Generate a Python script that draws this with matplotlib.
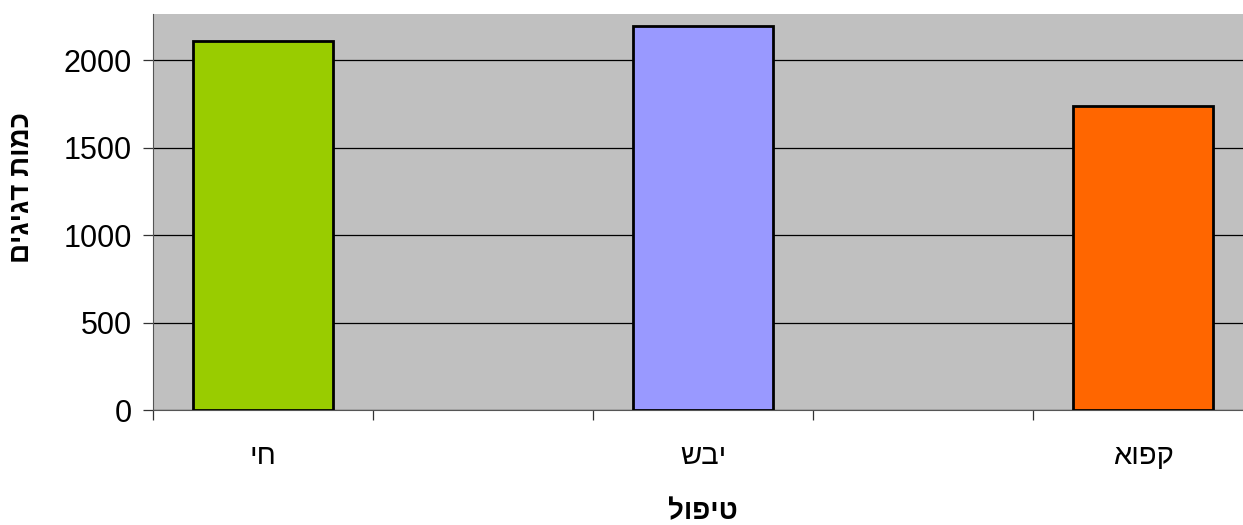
import matplotlib.pyplot as plt

# fonts: Liberation Sans for digits, DejaVu Sans as fallback for Hebrew
plt.rcParams['font.family'] = ['Liberation Sans', 'DejaVu Sans']

# treatments (logical Hebrew order) and fry counts
treatments = ["חי", "יבש", "קפוא"]
counts = [2110, 2195, 1740]
bar_colors = ["#99CC00", "#9999FF", "#FF6600"]
x_title = "טיפול"
y_title = "כמות דגיגים"

def visual(s):
    # matplotlib has no bidi support, so give it the visual (left-to-right) order
    return s[::-1]

# each treatment sits in every second slot of the category axis
slots = [2 * i for i in range(len(treatments))]

fig = plt.figure(figsize=(12.43, 5.25), dpi=100)
ax = fig.add_axes([153 / 1243, 115 / 525, 1100 / 1243, 396 / 525])
ax.set_facecolor("#C0C0C0")

ax.bar(slots, counts, width=0.636, color=bar_colors, edgecolor="black", linewidth=2.0, zorder=3)

ax.set_xlim(-0.5, 4.5)
ax.set_ylim(0, 2263)

ax.set_yticks([0, 500, 1000, 1500, 2000])
ax.yaxis.grid(True, color="black", linewidth=0.9, zorder=1)
ax.tick_params(axis="y", direction="out", length=7, width=0.9, labelsize=22, pad=8, colors="#333333", labelcolor="black")

# category boundaries carry the tick marks, labels go to the slot centres
ax.set_xticks([-0.5, 0.5, 1.5, 2.5, 3.5, 4.5])
ax.set_xticklabels([])
ax.set_xticks(slots, minor=True)
ax.set_xticklabels([visual(t) for t in treatments], minor=True)
ax.tick_params(axis="x", which="major", direction="out", length=7, width=0.9, colors="#333333")
ax.tick_params(axis="x", which="minor", length=0, labelsize=21, pad=23)

for side in ["top", "right"]:
    ax.spines[side].set_visible(False)
ax.spines["left"].set_color("#555555")
ax.spines["bottom"].set_color("#555555")

fig.text(703 / 1243, 1 - 512 / 525, visual(x_title), ha="center", va="center",
         fontsize=20, fontweight="bold")
fig.text(22 / 1243, 1 - 188 / 525, visual(y_title), ha="center", va="center",
         rotation=90, fontsize=20, fontweight="bold")

fig.savefig("out.png", dpi=100)
